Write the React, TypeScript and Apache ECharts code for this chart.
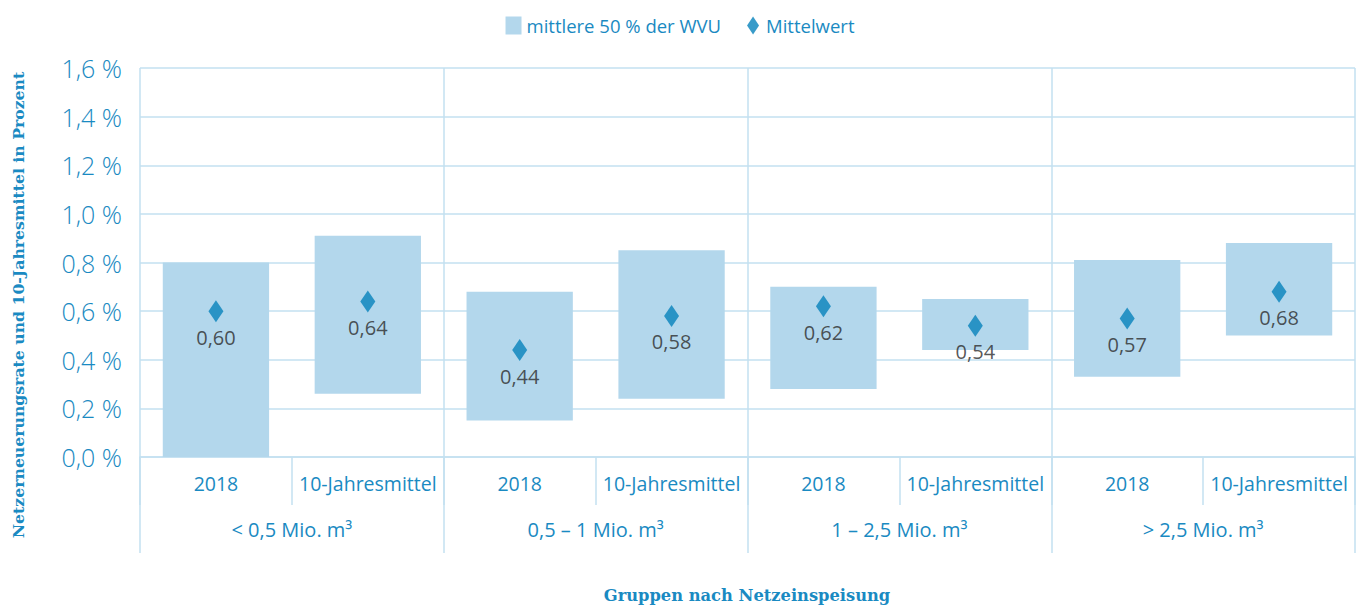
import React, { useEffect, useRef } from "react";
import * as echarts from "echarts";

const categories = ["2018", "10-Jahresmittel", "2018", "10-Jahresmittel", "2018", "10-Jahresmittel", "2018", "10-Jahresmittel"];
const groups = ["< 0,5 Mio. m³", "0,5 – 1 Mio. m³", "1 – 2,5 Mio. m³", "> 2,5 Mio. m³"];
const lowerQuartile = [0.0, 0.26, 0.15, 0.24, 0.28, 0.44, 0.33, 0.5];
const upperQuartile = [0.8, 0.91, 0.68, 0.85, 0.7, 0.65, 0.81, 0.88];
const meanValues = [0.6, 0.64, 0.44, 0.58, 0.62, 0.54, 0.57, 0.68];
const yTicks = [0, 0.2, 0.4, 0.6, 0.8, 1.0, 1.2, 1.4, 1.6];

const LINE = "#c3e0f1";
const BAR = "#b3d7ec";
const DIAMOND = "#0682bb";
const TEXT = "#1a8ac2";
const FONT = "'Open Sans', sans-serif";
const SERIF = "'DejaVu Serif', serif";

export default function App() {
  const ref = useRef<HTMLDivElement>(null);
  useEffect(() => {
    document.body.style.margin = "0";
    const chart = echarts.init(ref.current!, null, { renderer: "svg" });
    const range = upperQuartile.map((v, i) => +(v - lowerQuartile[i]).toFixed(4));
    chart.setOption({
      animation: false,
      legend: {
        left: "center",
        top: 11,
        itemWidth: 16,
        itemHeight: 18,
        itemGap: 26,
        textStyle: { color: TEXT, fontFamily: FONT, fontSize: 18.5 },
        data: [
          { name: "mittlere 50 % der WVU", icon: "rect" },
          { name: "Mittelwert", icon: "path://M6,0L12,9L6,18L0,9Z", itemStyle: { color: DIAMOND } },
        ],
      },
      grid: { left: 140, right: 5, top: 68, bottom: 150 },
      xAxis: [
        {
          type: "category",
          data: categories,
          position: "bottom",
          axisLine: { show: true, lineStyle: { color: LINE, width: 1.5 } },
          axisTick: { show: true, length: 48, lineStyle: { color: LINE, width: 1.5 } },
          axisLabel: { color: TEXT, fontFamily: FONT, fontSize: 19.5, margin: 16, interval: 0 },
          splitLine: { show: false },
        },
        {
          type: "category",
          data: groups,
          position: "bottom",
          axisLine: { show: false },
          axisTick: { show: true, length: 96, lineStyle: { color: LINE, width: 1.5 } },
          axisLabel: { color: TEXT, fontFamily: FONT, fontSize: 20, margin: 62, interval: 0 },
          splitLine: { show: true, lineStyle: { color: LINE, width: 1.5 } },
        },
      ],
      yAxis: {
        type: "value",
        min: 0,
        max: 1.6,
        interval: 0.2,
        axisLine: { show: false },
        axisTick: { show: false },
        splitLine: { show: true, lineStyle: { color: LINE, width: 1.5 } },
        axisLabel: {
          color: TEXT,
          fontFamily: FONT,
          fontSize: 25,
          fontWeight: 300,
          margin: 18,
          customValues: yTicks,
          formatter: (v: number) => v.toFixed(1).replace(".", ",") + " %",
        },
      },
      graphic: [
        {
          type: "text",
          x: 18,
          y: 305,
          rotation: Math.PI / 2,
          style: {
            text: "Netzerneuerungsrate und 10-Jahresmittel in Prozent",
            fill: TEXT,
            font: `bold 15.7px ${SERIF}`,
            textAlign: "center",
            textVerticalAlign: "middle",
          },
        },
        {
          type: "text",
          x: 747,
          y: 595,
          style: {
            text: "Gruppen nach Netzeinspeisung",
            fill: TEXT,
            font: `bold 16.3px ${SERIF}`,
            textAlign: "center",
            textVerticalAlign: "middle",
          },
        },
      ],
      series: [
        {
          name: "base",
          type: "bar",
          stack: "q",
          barWidth: "70%",
          data: lowerQuartile,
          itemStyle: { color: "transparent" },
          silent: true,
        },
        {
          name: "mittlere 50 % der WVU",
          type: "bar",
          stack: "q",
          barWidth: "70%",
          data: range,
          itemStyle: { color: BAR },
        },
        {
          name: "Mittelwert",
          type: "scatter",
          symbol: "diamond",
          symbolSize: [15, 22],
          data: meanValues,
          itemStyle: { color: DIAMOND },
          z: 5,
          label: {
            show: true,
            position: "bottom",
            distance: 5,
            color: "#2b2b2b",
            fontFamily: FONT,
            fontSize: 20,
            formatter: (p: any) => (p.value as number).toFixed(2).replace(".", ","),
          },
        },
      ],
    });
    return () => chart.dispose();
  }, []);
  return <div ref={ref} style={{ width: 1360, height: 607 }} />;
}
